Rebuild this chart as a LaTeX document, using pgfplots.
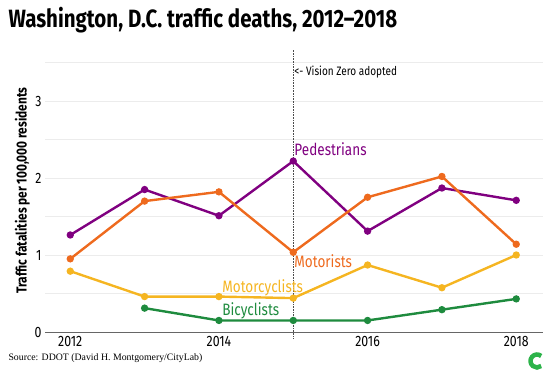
\documentclass[border=0pt]{standalone}
\usepackage{fontspec}
\setmainfont{Fira Sans}[FakeStretch=0.82]
\newfontfamily\serifsrc{Liberation Serif}
\usepackage{pgfplots}
\pgfplotsset{compat=1.18}
\definecolor{cped}{HTML}{800080}
\definecolor{cmot}{HTML}{EE6A1E}
\definecolor{ccyc}{HTML}{F5B521}
\definecolor{cbic}{HTML}{1E8B3E}
\definecolor{clogo}{HTML}{2DB34A}
\begin{document}
\begin{tikzpicture}[x=1pt,y=1pt]
\path[use as bounding box] (0,0) rectangle (548,378);
\node[anchor=west,font=\fontsize{25}{26}\selectfont\bfseries] at (5,358) {Washington, D.C. traffic deaths, 2012--2018};
\node[anchor=west,font=\serifsrc\fontsize{9.8}{11}\selectfont] at (5,20) {Source: DDOT (David H. Montgomery/CityLab)};
\begin{axis}[
  at={(45pt,46pt)}, anchor=south west,
  scale only axis, width=498pt, height=269.5pt,
  xmin=2011.66, xmax=2018.36, ymin=0, ymax=3.5,
  axis line style={draw=none},
  xtick={2012,2014,2016,2018},
  xticklabels={2012,2014,2016,2018},
  ytick={0,1,2,3},
  minor ytick={0.5,1.5,2.5,3.5},
  ymajorgrids, yminorgrids,
  major grid style={gray!15, line width=0.8pt},
  minor grid style={gray!15, line width=0.8pt},
  major tick length=0pt, minor tick length=0pt,
  /pgf/number format/assume math mode=true,
  tick label style={font=\fontsize{15}{16}\selectfont},
  xticklabel style={yshift=-0.5pt},
  yticklabel style={xshift=0pt},
  ylabel={\bfseries Traffic fatalities per 100,000 residents},
  ylabel style={font=\fontsize{14.5}{15}\selectfont, at={(ticklabel cs:0.525)}, yshift=-2pt},
  clip=false,
  every axis plot/.append style={line width=2.4pt, mark=*, mark size=2.4pt},
]
\draw[gray!80!black, line width=0.8pt] (axis cs:2011.66,0) -- (axis cs:2018.36,0);
\draw[densely dotted, black!70, line width=0.6pt] (axis cs:2015,-0.08) -- (axis cs:2015,3.68);
\node[anchor=west, font=\fontsize{12.2}{13}\selectfont, inner sep=1pt] at (axis cs:2015,3.38) {<- Vision Zero adopted};
\addplot[cped] coordinates {(2012,1.26) (2013,1.85) (2014,1.51) (2015,2.22) (2016,1.31) (2017,1.87) (2018,1.71)};
\addplot[cmot] coordinates {(2012,0.95) (2013,1.70) (2014,1.82) (2015,1.035) (2016,1.75) (2017,2.02) (2018,1.14)};
\addplot[ccyc] coordinates {(2012,0.79) (2013,0.46) (2014,0.46) (2015,0.44) (2016,0.87) (2017,0.575) (2018,1.00)};
\addplot[cbic] coordinates {(2013,0.31) (2014,0.15) (2015,0.15) (2016,0.15) (2017,0.29) (2018,0.43)};
\node[anchor=west, text=cped, font=\fontsize{16.5}{17}\selectfont, inner sep=1pt] at (axis cs:2015,2.37) {Pedestrians};
\node[anchor=west, text=cmot, font=\fontsize{16.5}{17}\selectfont, inner sep=1pt] at (axis cs:2015,0.92) {Motorists};
\node[anchor=west, text=ccyc, font=\fontsize{16.5}{17}\selectfont, inner sep=1pt] at (axis cs:2014.03,0.57) {Motorcyclists};
\node[anchor=west, text=cbic, font=\fontsize{16.5}{17}\selectfont, inner sep=1pt] at (axis cs:2014.03,0.27) {Bicyclists};
\end{axis}
\draw[clogo, line width=4.5pt] ([shift={(50:6.5)}]537,17) arc (50:310:6.5);
\end{tikzpicture}
\end{document}
